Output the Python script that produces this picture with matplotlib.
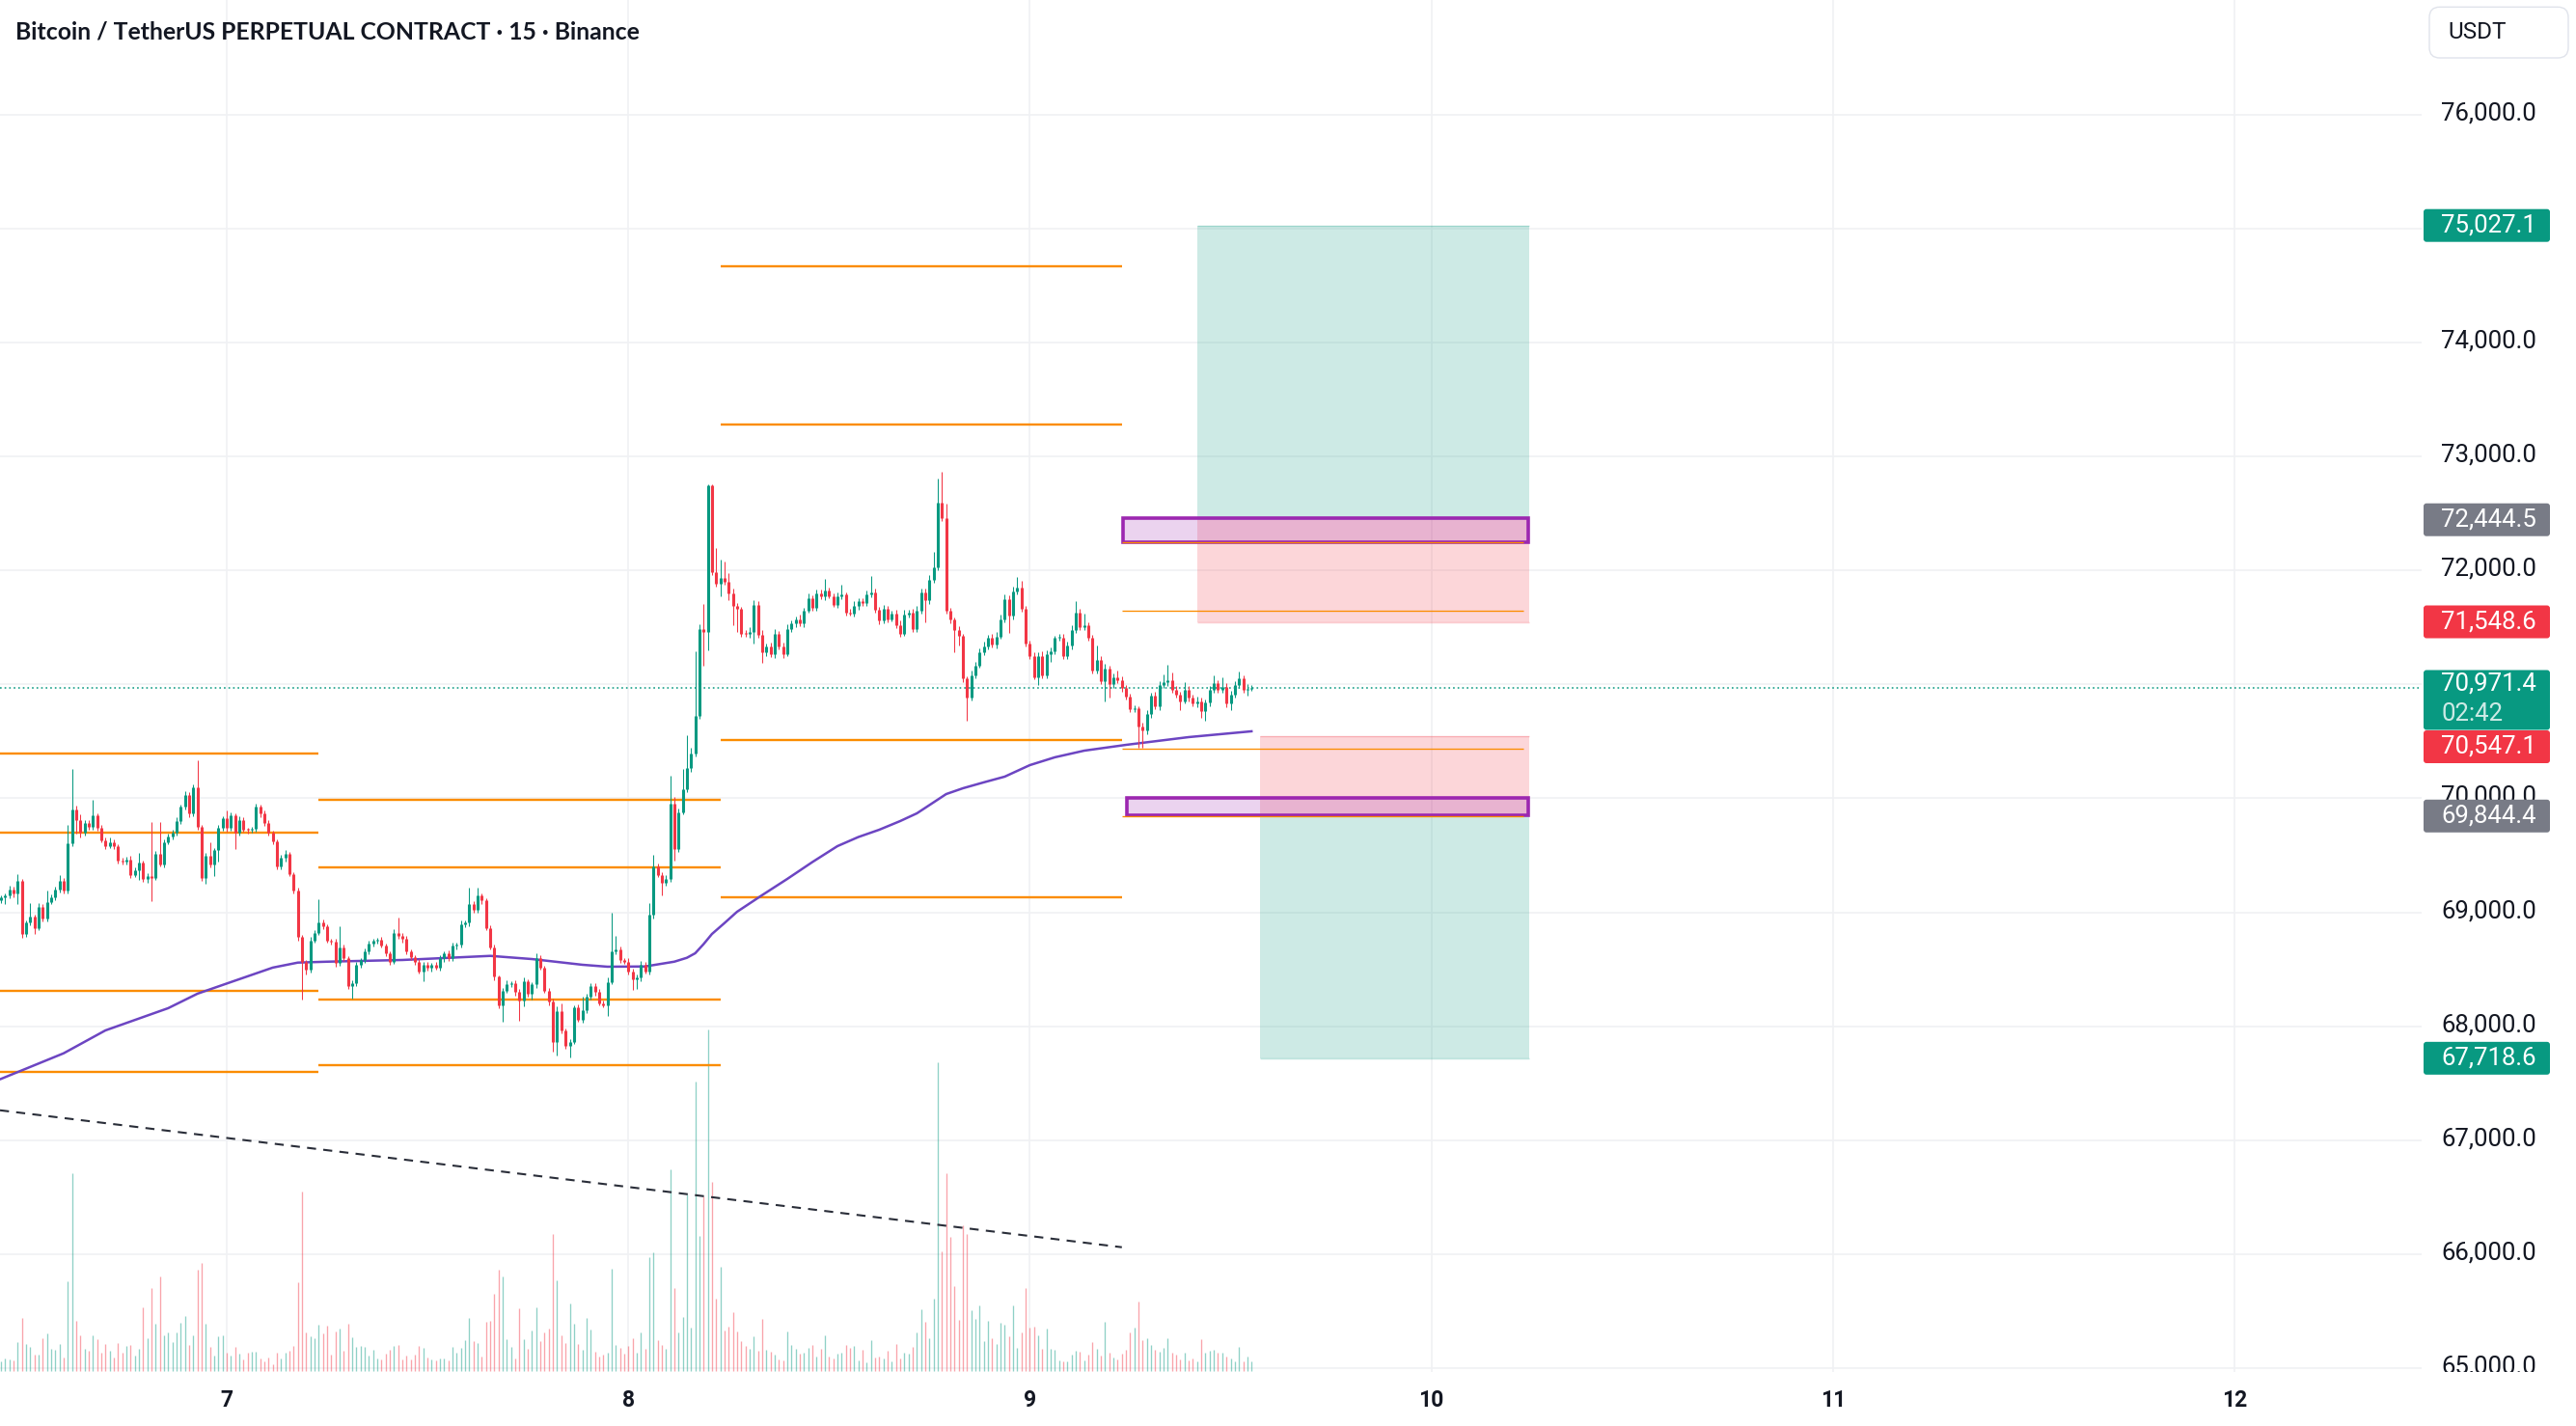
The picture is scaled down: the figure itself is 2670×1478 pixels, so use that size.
import numpy as np
import matplotlib.pyplot as plt
from matplotlib.patches import Rectangle, FancyBboxPatch

plt.rcParams['font.family'] = ['Roboto', 'DejaVu Sans']

# ---------------------------------------------------------------
# Data (BTCUSDT perp, 15m candles)
# ---------------------------------------------------------------
t0 = 7 - 54 / 96          # time of first candle (days)
first_open = 69104

closes = [
    69132, 69147, 69203, 69161, 69274, 68808, 68907, 68963, 68864, 69048,
    68949, 69090, 69132, 69203, 69274, 69189, 69607, 69900, 69810, 69697,
    69781, 69753, 69852, 69739, 69635, 69584, 69618, 69578, 69457, 69443,
    69465, 69330, 69372, 69437, 69288, 69316, 69302, 69513, 69423, 69618,
    69663, 69702, 69796, 69923, 70030, 69866, 70098, 69753, 69302, 69499,
    69415, 69542, 69739, 69824, 69739, 69852, 69697, 69810, 69725, 69720,
    69731, 69923, 69866, 69781, 69697, 69626, 69401, 69477, 69513, 69336,
    69194, 68780, 68568, 68498, 68751, 68822, 68912, 68878, 68751, 68743,
    68554, 68695, 68596, 68356, 68376, 68540, 68582, 68653, 68723, 68751,
    68757, 68709, 68639, 68568, 68822, 68794, 68766, 68653, 68610, 68568,
    68483, 68540, 68512, 68540, 68512, 68596, 68639, 68596, 68704, 68715,
    68893, 68907, 69076, 69020, 69147, 69104, 68864, 68695, 68433, 68187,
    68314, 68370, 68376, 68300, 68229, 68393, 68286, 68365, 68596, 68512,
    68314, 68215, 67857, 68131, 67961, 67829, 67863, 68167, 68060, 68139,
    68258, 68356, 68300, 68201, 68187, 68385, 68658, 68672, 68582, 68568,
    68483, 68413, 68427, 68540, 68483, 68977, 69401, 69330, 69259, 69288,
    69951, 69556, 69880, 70078, 70262, 70389, 70727, 71489, 71461, 72745,
    71983, 71884, 71932, 71899, 71800, 71687, 71659, 71447, 71441, 71461,
    71701, 71433, 71278, 71334, 71264, 71447, 71334, 71264, 71489, 71532,
    71574, 71532, 71645, 71757, 71673, 71800, 71772, 71828, 71772, 71701,
    71772, 71786, 71631, 71622, 71687, 71729, 71715, 71786, 71808, 71653,
    71560, 71659, 71574, 71622, 71518, 71447, 71616, 71631, 71481, 71650,
    71808, 71735, 71913, 72026, 72598, 72463, 71645, 71566, 71475, 71425,
    71052, 70883, 71080, 71165, 71283, 71334, 71405, 71348, 71419, 71566,
    71749, 71602, 71814, 71848, 71667, 71357, 71249, 71066, 71249, 71080,
    71264, 71292, 71405, 71410, 71249, 71340, 71475, 71630, 71503, 71518,
    71413, 71123, 71216, 71024, 71137, 71001, 71058, 71038, 70967, 70891,
    70784, 70792, 70634, 70595, 70736, 70897, 70804, 70996, 71018, 71038,
    70953, 70911, 70854, 70953, 70883, 70832, 70854, 70764, 70840, 70953,
    71010, 70953, 70981, 70832, 70911, 70996, 71052, 70953, 70960, 70971.4,
]

# wick length above / below the body, in USDT
wick_up = [
    20, 15, 30, 25, 62, 20, 25, 118, 15, 30, 20, 104, 25, 20, 56, 30, 160, 355, 36, 50,
    25, 30, 132, 20, 30, 25, 35, 20, 15, 25, 20, 30, 25, 85, 15, 30, 477, 25, 280, 20,
    30, 25, 35, 20, 30, 25, 20, 234, 10, 20, 113, 25, 30, 20, 70, 25, 20, 35, 25, 20,
    15, 28, 20, 25, 30, 20, 15, 25, 30, 20, 15, 20, 20, 15, 30, 20, 200, 25, 20, 15,
    20, 183, 25, 20, 30, 25, 20, 30, 25, 20, 15, 25, 20, 15, 30, 133, 20, 25, 20, 15,
    20, 25, 20, 15, 25, 30, 20, 25, 30, 20, 35, 25, 141, 20, 70, 15, 20, 25, 20, 15,
    25, 30, 20, 25, 30, 35, 20, 25, 40, 30, 20, 25, 30, 40, 70, 20, 25, 20, 25, 120,
    30, 25, 20, 30, 25, 40, 338, 120, 25, 20, 30, 20, 25, 30, 20, 100, 104, 30, 25, 35,
    248, 62, 30, 180, 296, 56, 564, 40, 217, 10, 10, 212, 164, 150, 80, 40, 30, 25, 30, 40,
    35, 30, 40, 25, 30, 35, 25, 30, 40, 30, 25, 35, 30, 40, 25, 30, 35, 100, 25, 30,
    35, 90, 25, 30, 40, 25, 30, 35, 141, 30, 25, 35, 30, 25, 30, 40, 35, 25, 30, 40,
    35, 30, 45, 140, 208, 268, 127, 30, 25, 35, 20, 15, 40, 35, 30, 45, 30, 35, 40, 50,
    45, 30, 40, 93, 60, 25, 30, 35, 30, 40, 35, 30, 25, 37, 30, 35, 40, 100, 30, 100,
    30, 25, 124, 35, 40, 30, 35, 60, 30, 25, 30, 25, 20, 30, 35, 30, 40, 30, 68, 132,
    70, 30, 25, 70, 30, 25, 35, 30, 25, 30, 65, 30, 85, 30, 35, 30, 60, 30, 40, 25,
]
wick_dn = [
    25, 56, 20, 30, 90, 34, 20, 25, 56, 20, 30, 28, 20, 25, 30, 20, 25, 30, 118, 42,
    20, 25, 30, 20, 25, 30, 20, 25, 30, 25, 20, 30, 25, 85, 20, 30, 206, 20, 25, 30,
    20, 25, 30, 20, 25, 30, 20, 25, 28, 56, 20, 100, 100, 25, 30, 20, 140, 25, 20, 30,
    20, 25, 30, 20, 25, 30, 20, 25, 30, 20, 25, 30, 333, 40, 30, 20, 25, 30, 20, 25,
    30, 20, 25, 30, 113, 20, 25, 30, 20, 25, 30, 20, 25, 30, 20, 25, 30, 20, 25, 30,
    20, 85, 25, 30, 20, 25, 30, 20, 25, 30, 20, 25, 30, 20, 25, 30, 20, 25, 30, 28,
    150, 20, 25, 30, 183, 56, 25, 56, 30, 20, 25, 30, 80, 113, 25, 30, 105, 20, 25, 30,
    20, 25, 30, 20, 25, 100, 20, 25, 30, 20, 25, 93, 90, 30, 20, 25, 30, 20, 113, 30,
    25, 99, 30, 20, 25, 30, 25, 30, 296, 161, 20, 30, 113, 25, 60, 169, 200, 30, 25, 30,
    100, 25, 85, 30, 25, 30, 25, 30, 20, 25, 30, 25, 30, 20, 25, 30, 25, 30, 20, 25,
    30, 25, 30, 20, 25, 30, 25, 30, 20, 25, 30, 25, 30, 20, 25, 30, 25, 30, 20, 25,
    30, 190, 30, 20, 25, 30, 25, 30, 197, 85, 30, 203, 25, 30, 20, 25, 30, 25, 30, 20,
    25, 150, 30, 25, 30, 25, 30, 25, 70, 30, 25, 70, 30, 25, 30, 25, 30, 25, 30, 25,
    30, 25, 30, 25, 170, 118, 30, 25, 30, 25, 30, 25, 189, 150, 36, 30, 25, 30, 25, 30,
    25, 30, 80, 25, 30, 25, 30, 56, 85, 30, 25, 30, 25, 30, 60, 25, 30, 25, 56, 20,
]

# relative volume (bar height units)
volume = [
    10, 13, 12, 11, 30, 55, 28, 25, 17, 17, 34, 39, 23, 22, 28, 14, 93, 205, 52, 37,
    23, 21, 37, 33, 19, 28, 21, 14, 29, 19, 26, 27, 16, 23, 66, 34, 86, 49, 98, 37,
    40, 30, 40, 50, 57, 27, 37, 105, 112, 49, 25, 16, 36, 37, 19, 16, 25, 18, 12, 19,
    20, 20, 13, 10, 14, 7, 19, 13, 19, 21, 26, 92, 186, 40, 36, 34, 48, 39, 47, 17,
    41, 44, 21, 49, 35, 25, 26, 25, 16, 22, 13, 12, 18, 22, 26, 27, 12, 16, 12, 17,
    26, 24, 14, 12, 11, 13, 13, 11, 25, 19, 24, 32, 55, 31, 29, 15, 51, 52, 80, 105,
    98, 33, 25, 13, 65, 33, 23, 42, 66, 31, 40, 44, 142, 94, 37, 29, 70, 49, 28, 22,
    55, 43, 20, 15, 17, 19, 106, 27, 24, 18, 26, 34, 19, 40, 23, 118, 123, 32, 27, 23,
    209, 86, 40, 56, 183, 45, 300, 140, 181, 354, 196, 75, 108, 42, 46, 61, 41, 31, 26, 23,
    36, 21, 54, 22, 20, 17, 12, 11, 41, 27, 23, 18, 19, 24, 27, 15, 23, 37, 15, 13,
    18, 19, 27, 24, 26, 11, 22, 9, 32, 14, 15, 13, 21, 10, 28, 13, 19, 18, 25, 40,
    64, 51, 34, 75, 320, 124, 205, 139, 88, 53, 151, 142, 63, 54, 68, 31, 52, 34, 28, 50,
    48, 36, 68, 24, 40, 86, 45, 46, 37, 23, 44, 23, 22, 11, 10, 10, 17, 21, 20, 11,
    17, 30, 23, 16, 51, 19, 14, 12, 18, 22, 40, 45, 72, 32, 34, 27, 22, 20, 24, 34,
    19, 17, 12, 19, 11, 13, 10, 33, 19, 21, 22, 19, 19, 15, 13, 10, 25, 10, 15, 10,
]

# moving average (candle index, value)
ma_idx = [0, 15, 25, 40, 47, 55, 65, 71, 78, 96, 117, 127, 139, 145, 154, 161,
          164, 166, 168, 170, 173, 176, 182, 188, 194, 200, 205, 210, 215, 219,
          226, 230, 235, 240, 246, 252, 259, 269, 284, 299]
ma_val = [67537, 67762, 67963, 68158, 68285, 68387, 68514, 68558, 68566, 68581,
          68617, 68589, 68539, 68522, 68524, 68566, 68600, 68640, 68720, 68809,
          68905, 69004, 69150, 69292, 69440, 69580, 69660, 69724, 69800, 69868,
          70037, 70088, 70140, 70190, 70291, 70360, 70418, 70469, 70537, 70588]

# daily orange levels: (start day, end day, [levels])
level_days = [6.40, 7.2292, 8.2292, 9.2292, 10.2292]
level_sets = [
    [70395, 69701, 68307, 67601],
    [69984, 69396, 68236, 67660],
    [74670, 73283, 70514, 69134],
    [72251, 71646, 70436, 69839],
]

# dashed trend line
trend_t = [6.4354, 9.2292]
trend_p = [67262, 66060]

# position tools
long_pos = dict(t1=9.4171, t2=10.2437, target=75027.1, entry=72444.5, stop=71548.6)
short_pos = dict(t1=9.5733, t2=10.2437, target=67718.6, entry=69844.4, stop=70547.1)

# purple zones (t1, t2, low, high)
zones = [(9.2314, 10.2404, 72247, 72463), (9.2408, 10.2404, 69851, 70006)]

last_price = 70971.4
price_ticks = list(range(65000, 77000, 1000))
day_ticks = [7, 8, 9, 10, 11, 12]

# ---------------------------------------------------------------
W, H = 2670, 1478
GREEN, RED = '#089981', '#f23645'
plot_right, plot_bottom = 2510, 1422
px_per_1000 = 118.1
y70k = 827.4
ytop = 70000 + y70k / px_per_1000 * 1000
ybot = 70000 - (plot_bottom - y70k) / px_per_1000 * 1000
xleft = 7 - 235 / 416.2
xright = 7 + (plot_right - 235) / 416.2

fig = plt.figure(figsize=(W / 100, H / 100), dpi=100)
ax = fig.add_axes([0, 1 - plot_bottom / H, plot_right / W, plot_bottom / H])
ax.set_xlim(xleft, xright)
ax.set_ylim(ybot, ytop)
for s in ax.spines.values():
    s.set_visible(False)
ax.set_xticks(day_ticks)
ax.set_yticks(price_ticks)
ax.tick_params(length=0, labelbottom=False, labelleft=False)
ax.grid(True, color='#f0f1f4', lw=1.2, zorder=0)
ax.set_axisbelow(True)

closes = np.array(closes, dtype=float)
opens = np.r_[first_open, closes[:-1]]
highs = np.maximum(opens, closes) + np.array(wick_up)
lows = np.minimum(opens, closes) - np.array(wick_dn)
up = closes >= opens
t = t0 + np.arange(len(closes)) / 96

# volume in the lower pane
vol = np.array(volume) / plot_bottom
vol_base = 1.3 / plot_bottom
ax.vlines(t[up], vol_base, vol_base + vol[up], color=GREEN, alpha=0.45, lw=0.95,
          transform=ax.get_xaxis_transform(), zorder=1)
ax.vlines(t[~up], vol_base, vol_base + vol[~up], color=RED, alpha=0.45, lw=0.95,
          transform=ax.get_xaxis_transform(), zorder=1)

# position tools
for pos, top_col, bot_col in [(long_pos, GREEN, RED), (short_pos, RED, GREEN)]:
    w = pos['t2'] - pos['t1']
    hi_v = max(pos['target'], pos['stop'])
    lo_v = min(pos['target'], pos['stop'])
    ax.add_patch(Rectangle((pos['t1'], pos['entry']), w, hi_v - pos['entry'],
                           fc=top_col, alpha=0.2, lw=0, zorder=2))
    ax.add_patch(Rectangle((pos['t1'], lo_v), w, pos['entry'] - lo_v,
                           fc=bot_col, alpha=0.2, lw=0, zorder=2))
    ax.hlines([hi_v], pos['t1'], pos['t2'], color=top_col, alpha=0.25, lw=1, zorder=2)
    ax.hlines([lo_v], pos['t1'], pos['t2'], color=bot_col, alpha=0.25, lw=1, zorder=2)

# purple zones
for z1, z2, lo, hi in zones:
    ax.add_patch(Rectangle((z1, lo), z2 - z1, hi - lo, fc=(0.612, 0.153, 0.690, 0.2),
                           ec='#9c27b0', lw=2.6, zorder=3))

# orange levels
for k, lv in enumerate(level_sets):
    lw = 0.95 if k == 3 else 1.7
    ax.hlines(lv, level_days[k], level_days[k + 1], color='#fb8c00', lw=lw, zorder=3)

# trend line
ax.plot(trend_t, trend_p, color='#2a2e39', lw=1.5, ls=(0, (4.5, 3.6)), zorder=3)

# moving average
ax.plot(t0 + np.array(ma_idx) / 96, ma_val, color='#6c45c2', lw=1.8, zorder=4,
        solid_joinstyle='round')

# last price line
ax.axhline(last_price, color=GREEN, lw=1.1, ls=(0, (1.1, 2.0)), zorder=4)

# candles
body_lo = np.minimum(opens, closes)
body_hi = np.maximum(np.maximum(opens, closes), body_lo + 9)
for m, col in [(up, GREEN), (~up, RED)]:
    ax.vlines(t[m], lows[m], highs[m], color=col, lw=0.75, zorder=5)
    ax.vlines(t[m], body_lo[m], body_hi[m], color=col, lw=2.2, zorder=5,
              capstyle='butt')

# day labels
for d in day_ticks:
    ax.text(d, -29.7 / plot_bottom, str(d), transform=ax.get_xaxis_transform(),
            ha='center', va='center', fontsize=16.5, fontweight='bold',
            color='#131722', clip_on=False)

# ---------------------------------------------------------------
# price scale
pax = fig.add_axes([plot_right / W, 1 - plot_bottom / H, (W - plot_right) / W, plot_bottom / H])
pax.set_xlim(plot_right, W)
pax.set_ylim(ybot, ytop)
pax.axis('off')
pp = 1000 / px_per_1000   # price per pixel
FS = 18.5

for p in price_ticks:
    pax.text(2530, p + 1.5 * pp, f'{p:,.1f}', ha='left', va='center', fontsize=FS,
             color='#131722', clip_on=True, zorder=1)


def tag(center, height, col, zorder=3):
    pax.add_patch(FancyBboxPatch((2512, center - height * pp / 2), 131, height * pp,
                                 boxstyle='round,pad=0,rounding_size=3',
                                 mutation_aspect=pp, fc=col, ec='none', zorder=zorder))


tags = [(75027.1, GREEN), (72444.5, '#787b86'), (71548.6, RED),
        (69844.4, '#787b86'), (67718.6, GREEN)]
for p, col in tags:
    tag(p, 34, col)
    pax.text(2530, p, f'{p:,.1f}', ha='left', va='center', fontsize=FS,
             color='white', zorder=4)

# last price with countdown, stop label pushed below it
tag(70000 - (725.5 - y70k) * pp, 62, GREEN)
pax.text(2530, 70000 - (708 - y70k) * pp, f'{last_price:,.1f}', ha='left', va='center',
         fontsize=FS, color='white', zorder=4)
pax.text(2530, 70000 - (740 - y70k) * pp, '02:42', ha='left', va='center',
         fontsize=FS, color='white', alpha=0.8, zorder=4)
stop_c = 70000 - (774 - y70k) * pp
tag(stop_c, 34, RED)
pax.text(2530, stop_c, f'{short_pos["stop"]:,.1f}', ha='left', va='center',
         fontsize=FS, color='white', zorder=4)

# currency box
fig.add_artist(FancyBboxPatch((2518 / W, 1 - 60 / H), 144 / W, 52.7 / H,
                              boxstyle='round,pad=0,rounding_size=0.004',
                              mutation_aspect=W / H, transform=fig.transFigure,
                              fc='white', ec='#e0e3eb', lw=1))
fig.text(2537 / W, 1 - 34 / H, 'USDT', ha='left', va='center', fontsize=17.5,
         color='#131722')

# title
fig.text(15.6 / W, 1 - 32.7 / H, 'Bitcoin / TetherUS PERPETUAL CONTRACT · 15 · Binance',
         ha='left', va='center', fontsize=17.8, fontweight='bold', color='#131722',
         family=['Lato', 'DejaVu Sans'])

fig.savefig('out.png', dpi=100, facecolor='white')
